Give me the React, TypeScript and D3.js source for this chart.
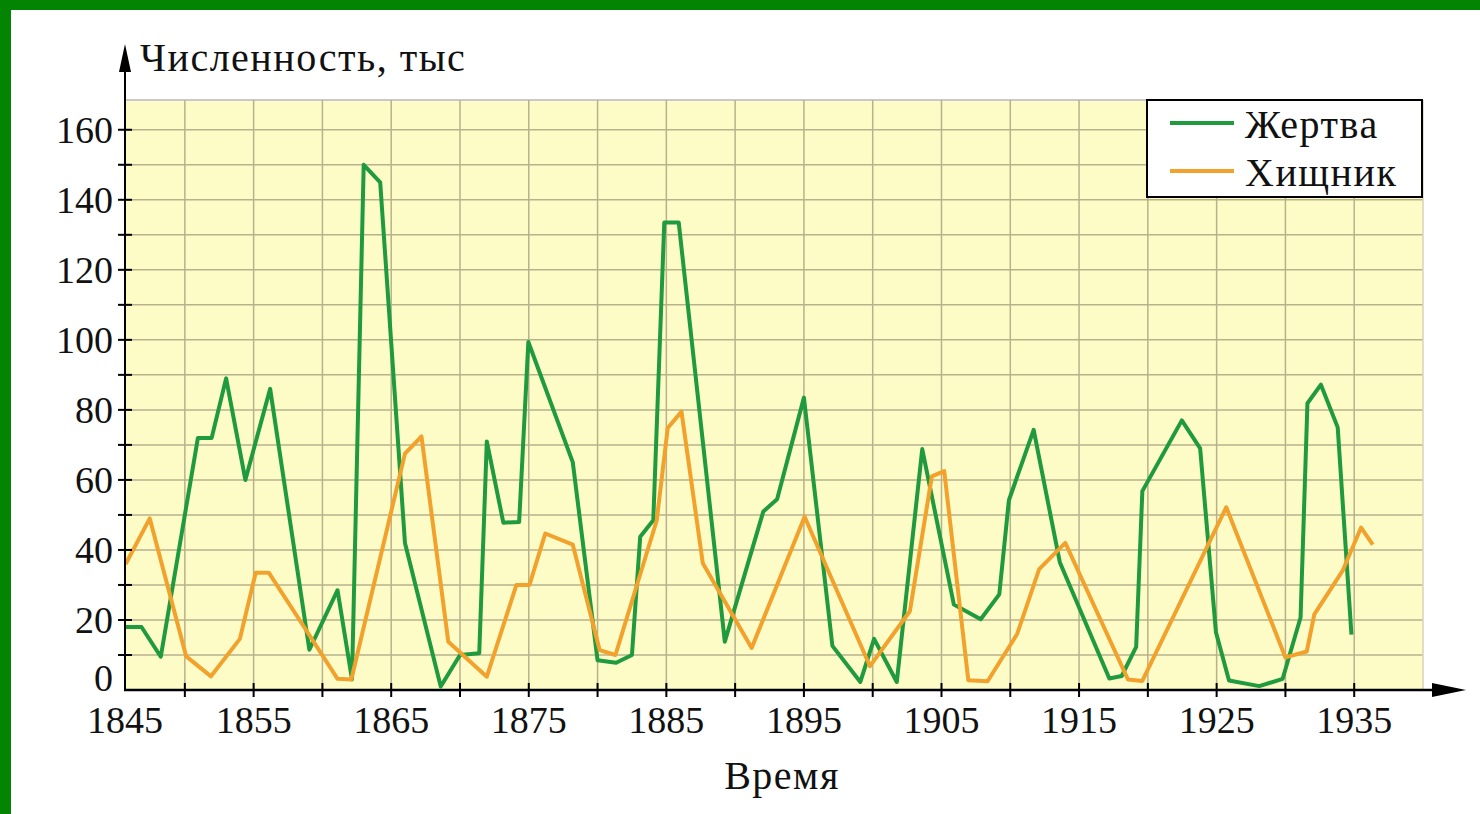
import React from 'react';
import * as d3 from 'd3';

// Жертва (prey) — years and counts, thousands
const preyYears = [
    1845.7, 1846.85, 1848.25, 1850.95, 1851.95, 1853.0, 1854.4, 1856.2, 1859.05, 1861.1,
    1862.15, 1863.0, 1864.2, 1866.0, 1868.6, 1870.0, 1871.4, 1871.95, 1873.15, 1874.3,
    1874.97, 1878.2, 1880.0, 1881.35, 1882.5, 1883.1, 1884.05, 1884.85, 1885.9, 1889.25,
    1892.05, 1893.05, 1895.0, 1897.07, 1899.1, 1900.1, 1901.75, 1903.6, 1905.9, 1907.85,
    1909.2, 1909.9, 1911.7, 1913.6, 1917.2, 1918.1, 1919.15, 1919.6, 1922.47, 1923.8,
    1924.95, 1925.9, 1928.1, 1929.8, 1931.1, 1931.6, 1932.58, 1933.8, 1934.8,
];
const preyCounts = [
    18, 18, 9.5, 72, 72, 89, 60, 86, 11.5, 28.5,
    3, 150, 145, 42, 1, 10, 10.5, 71, 47.8, 48,
    99.4, 65, 8.5, 7.8, 10, 43.8, 48.5, 133.5, 133.5, 13.8,
    51, 54.5, 83.5, 12.6, 2.3, 14.6, 2.3, 68.8, 24.4, 20.2,
    27.3, 54.2, 74.3, 36.5, 3.3, 4, 12.3, 56.8, 77, 69,
    16.5, 2.7, 1.1, 3.2, 20.7, 81.9, 87.2, 75, 15.8,
];

// Хищник (predator)
const predatorYears = [
    1845.7, 1847.45, 1850.1, 1851.9, 1854.0, 1855.15, 1856.1, 1859.0, 1861.1, 1862.1,
    1866.0, 1867.2, 1869.15, 1871.95, 1874.1, 1875.05, 1876.2, 1878.2, 1880.15, 1881.3,
    1884.3, 1885.1, 1886.1, 1887.65, 1891.2, 1895.05, 1899.8, 1902.7, 1904.3, 1905.2,
    1906.95, 1908.35, 1910.5, 1912.1, 1914.0, 1918.55, 1919.6, 1925.7, 1930.0, 1931.55,
    1932.1, 1934.15, 1935.5, 1936.35,
];
const predatorCounts = [
    36, 49, 9.6, 3.9, 14.6, 33.5, 33.5, 16, 3.2, 3,
    67.5, 72.4, 13.8, 3.8, 30, 30, 44.7, 41.5, 11.4, 10,
    48.4, 74.8, 79.5, 36.2, 12, 49.5, 6.8, 22.5, 61, 62.5,
    2.8, 2.5, 16, 34.5, 42, 3, 2.6, 52.2, 9.3, 11,
    21.6, 34, 46.4, 41.5,
];

const yearLabels = [1845, 1855, 1865, 1875, 1885, 1895, 1905, 1915, 1925, 1935];
const countLabels = [0, 20, 40, 60, 80, 100, 120, 140, 160];

const series = [
    { name: 'Жертва', color: '#1f9a3f', years: preyYears, counts: preyCounts },
    { name: 'Хищник', color: '#f2a22c', years: predatorYears, counts: predatorCounts },
];

const FONT = '"Liberation Serif", "Times New Roman", serif';

export default function App() {
    const width = 1480;
    const height = 814;
    const plot = { left: 125, right: 1423, top: 100, bottom: 690 };

    const x = d3.scaleLinear().domain([1845.65, 1940]).range([plot.left, plot.right]);
    const y = d3.scaleLinear().domain([0, 168.5]).range([plot.bottom, plot.top]);

    const line = d3
        .line<[number, number]>()
        .x((d) => x(d[0]))
        .y((d) => y(d[1]));

    const vGrid = d3.range(1850, 1941, 5);
    const hGrid = d3.range(10, 161, 10);
    const yTicks = d3.range(10, 161, 10);
    const xTicks = d3.range(1850, 1936, 5);

    return (
        <svg
            width={width}
            height={height}
            style={{ position: 'absolute', left: 0, top: 0, display: 'block' }}
            fontFamily={FONT}
        >
            <rect x={0} y={0} width={width} height={height} fill="#038503" />
            <rect x={11} y={10} width={width - 11} height={height - 10} fill="#ffffff" />

            {/* plot background */}
            <rect
                x={plot.left}
                y={plot.top}
                width={plot.right - plot.left}
                height={plot.bottom - plot.top}
                fill="#fdfcc6"
            />
            <line x1={plot.left} x2={plot.right} y1={plot.top} y2={plot.top} stroke="#c9c9c9" strokeWidth={2} />

            {/* grid */}
            {hGrid.map((v) => (
                <line key={'h' + v} x1={plot.left} x2={plot.right} y1={y(v)} y2={y(v)} stroke="#b7b28c" strokeWidth={1.5} />
            ))}
            {vGrid.map((v) => (
                <line
                    key={'v' + v}
                    x1={x(v)}
                    x2={x(v)}
                    y1={plot.top}
                    y2={plot.bottom}
                    stroke={v === 1940 ? '#d6d4b4' : '#b7b28c'}
                    strokeWidth={1.5}
                />
            ))}

            {/* series */}
            {series.map((s) => (
                <path
                    key={s.name}
                    d={line(s.years.map((yr, i) => [yr, s.counts[i]] as [number, number])) || ''}
                    fill="none"
                    stroke={s.color}
                    strokeWidth={4}
                    strokeLinejoin="round"
                />
            ))}

            {/* axes */}
            <line x1={plot.left} x2={plot.left} y1={plot.bottom + 1} y2={60} stroke="#000" strokeWidth={2} />
            <path d={`M${plot.left},44 L${plot.left - 6},72 L${plot.left + 6},72 Z`} fill="#000" />
            <line x1={plot.left - 1} x2={1440} y1={plot.bottom} y2={plot.bottom} stroke="#000" strokeWidth={2.5} />
            <path d={`M1466,${plot.bottom} L1432,${plot.bottom - 7} L1432,${plot.bottom + 7} Z`} fill="#000" />

            {yTicks.map((v) => (
                <line key={'yt' + v} x1={plot.left - 7} x2={plot.left + 7} y1={y(v)} y2={y(v)} stroke="#000" strokeWidth={2} />
            ))}
            {xTicks.map((v) => (
                <line key={'xt' + v} x1={x(v)} x2={x(v)} y1={plot.bottom - 7} y2={plot.bottom + 7} stroke="#000" strokeWidth={2} />
            ))}

            {/* tick labels */}
            {countLabels.map((v) => (
                <text
                    key={'yl' + v}
                    x={113}
                    y={v === 0 ? y(v) - 12 : y(v)}
                    textAnchor="end"
                    dominantBaseline="central"
                    fontSize={38}
                    fill="#111"
                >
                    {v}
                </text>
            ))}
            {yearLabels.map((v) => (
                <text
                    key={'xl' + v}
                    x={x(Math.max(v, x.domain()[0]))}
                    y={720}
                    textAnchor="middle"
                    dominantBaseline="central"
                    fontSize={38}
                    fill="#111"
                >
                    {v}
                </text>
            ))}

            {/* titles */}
            <text x={140} y={57} dominantBaseline="central" fontSize={40} letterSpacing={1.5} fill="#111">
                Численность, тыс
            </text>
            <text x={782} y={775} textAnchor="middle" dominantBaseline="central" fontSize={40} letterSpacing={1.5} fill="#111">
                Время
            </text>

            {/* legend */}
            <g>
                <rect x={1147} y={100} width={275} height={97} fill="#fff" stroke="#000" strokeWidth={2} />
                {series.map((s, i) => (
                    <g key={'lg' + s.name} transform={`translate(1170, ${123 + i * 48})`}>
                        <line x1={0} x2={64} y1={0} y2={0} stroke={s.color} strokeWidth={4} />
                        <text x={75} y={1} dominantBaseline="central" fontSize={40} letterSpacing={1.5} fill="#111">
                            {s.name}
                        </text>
                    </g>
                ))}
            </g>
        </svg>
    );
}
